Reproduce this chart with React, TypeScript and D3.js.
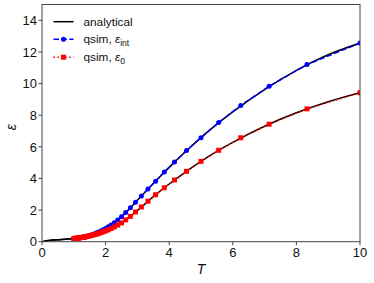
import React from "react";
import * as d3 from "d3";

// Simulation temperatures (beta = 1/T from 1.00 down to 0.10)
const simT = [
  1.0, 1.0204, 1.0417, 1.0638, 1.087, 1.1111, 1.1364, 1.1628, 1.1905, 1.2195,
  1.25, 1.2821, 1.3158, 1.3514, 1.3889, 1.4286, 1.4706, 1.5152, 1.5625, 1.6129,
  1.6667, 1.7241, 1.7857, 1.8519, 1.9231, 2.0, 2.0833, 2.1739, 2.2727, 2.381,
  2.5, 2.6316, 2.7778, 2.9412, 3.125, 3.3333, 3.5714, 3.8462, 4.1667, 4.5455,
  5.0, 5.5556, 6.25, 7.1429, 8.3333, 10.0,
];

const qsimInt = [
  0.2, 0.2, 0.21, 0.21, 0.22, 0.22, 0.23, 0.24, 0.25, 0.26,
  0.27, 0.28, 0.29, 0.3, 0.32, 0.34, 0.36, 0.4, 0.43, 0.47,
  0.51, 0.56, 0.62, 0.68, 0.76, 0.84, 0.94, 1.06, 1.2, 1.37,
  1.58, 1.84, 2.14, 2.49, 2.89, 3.33, 3.83, 4.4, 5.04, 5.76,
  6.58, 7.54, 8.62, 9.83, 11.2, 12.56,
];

const qsim0 = [
  0.2, 0.2, 0.21, 0.21, 0.22, 0.22, 0.23, 0.24, 0.25, 0.26,
  0.27, 0.28, 0.29, 0.3, 0.32, 0.34, 0.36, 0.38, 0.4, 0.43,
  0.46, 0.49, 0.53, 0.58, 0.63, 0.68, 0.75, 0.83, 0.93, 1.05,
  1.19, 1.38, 1.6, 1.88, 2.2, 2.56, 2.97, 3.41, 3.9, 4.45,
  5.08, 5.78, 6.57, 7.43, 8.4, 9.42,
];

// Analytical curves sampled on a T grid
const anaT = [0, 0.05, 0.1, 0.2, 0.3, 0.5, 0.75, 1.0, 1.25, 1.5, 1.75, 2.0, 2.25, 2.5, 2.75, 3.0, 3.5, 4.0, 4.5, 5.0, 5.5, 6.0, 7.0, 8.0, 9.0, 10.0];
const anaInt = [0, 0.01, 0.04, 0.08, 0.1, 0.13, 0.16, 0.2, 0.27, 0.39, 0.58, 0.84, 1.17, 1.58, 2.08, 2.62, 3.68, 4.7, 5.67, 6.58, 7.43, 8.21, 9.62, 10.83, 11.82, 12.56];
const ana0 = [0, 0.01, 0.04, 0.08, 0.1, 0.13, 0.16, 0.2, 0.27, 0.37, 0.51, 0.68, 0.9, 1.19, 1.56, 1.97, 2.85, 3.65, 4.39, 5.08, 5.71, 6.28, 7.3, 8.15, 8.85, 9.42];

const xTicks = [0, 2, 4, 6, 8, 10];
const yTicks = [0, 2, 4, 6, 8, 10, 12, 14];

const W = 374;
const H = 283;
const left = 42;
const right = 360;
const top = 4.5;
const bottom = 241.7;

const FONT = "'Liberation Sans', Arial, sans-serif";
const txt: React.CSSProperties = { fontFamily: FONT };

export default function App() {
  const x = d3.scaleLinear().domain([0, 10]).range([left, right]);
  const y = d3.scaleLinear().domain([0, 15]).range([bottom, top]);

  const line = d3
    .line<[number, number]>()
    .x((d) => x(d[0]))
    .y((d) => y(d[1]));
  const smooth = d3
    .line<[number, number]>()
    .x((d) => x(d[0]))
    .y((d) => y(d[1]))
    .curve(d3.curveMonotoneX);

  const anaIntPts = anaT.map((t, i) => [t, anaInt[i]] as [number, number]);
  const ana0Pts = anaT.map((t, i) => [t, ana0[i]] as [number, number]);
  const intPts = simT.map((t, i) => [t, qsimInt[i]] as [number, number]);
  const zeroPts = simT.map((t, i) => [t, qsim0[i]] as [number, number]);

  const blue = "#0000ff";
  const red = "#ff0000";
  const ms = 5;

  const legY = [21.7, 39.2, 57.2];
  const lx0 = 53.5;
  const lx1 = 73.5;
  const ltx = 83.5;

  return (
    <svg
      width={W}
      height={H}
      style={{ position: "absolute", left: 0, top: 0, background: "#fff" }}
    >
      <defs>
        <clipPath id="clip">
          <rect x={left} y={top} width={right - left} height={bottom - top} />
        </clipPath>
      </defs>
      <rect x={0} y={0} width={W} height={H} fill="#fff" />

      <g clipPath="url(#clip)">
        <path d={smooth(anaIntPts) || ""} fill="none" stroke="#000" strokeWidth={1.5} />
        <path d={smooth(ana0Pts) || ""} fill="none" stroke="#000" strokeWidth={1.5} />
        <path d={line(intPts) || ""} fill="none" stroke={blue} strokeWidth={1.5} strokeDasharray="5.5,2.4" />
        <path d={line(zeroPts) || ""} fill="none" stroke={red} strokeWidth={1.5} strokeDasharray="1.5,2.4" />
        {intPts.map((p, i) => (
          <circle key={"b" + i} cx={x(p[0])} cy={y(p[1])} r={ms / 2} fill={blue} />
        ))}
        {zeroPts.map((p, i) => (
          <rect
            key={"r" + i}
            x={x(p[0]) - ms / 2}
            y={y(p[1]) - ms / 2}
            width={ms}
            height={ms}
            fill={red}
          />
        ))}
      </g>

      {/* frame */}
      <rect
        x={left}
        y={top}
        width={right - left}
        height={bottom - top}
        fill="none"
        stroke="#444"
        strokeWidth={1}
      />

      {/* x ticks */}
      {xTicks.map((t) => (
        <g key={"x" + t}>
          <line x1={x(t)} x2={x(t)} y1={bottom} y2={bottom + 3.5} stroke="#444" strokeWidth={1} />
          <text x={x(t)} y={bottom + 15} textAnchor="middle" fontSize={13} fill="#111" style={txt}>
            {t}
          </text>
        </g>
      ))}
      {/* y ticks */}
      {yTicks.map((t) => (
        <g key={"y" + t}>
          <line x1={left - 3.5} x2={left} y1={y(t)} y2={y(t)} stroke="#444" strokeWidth={1} />
          <text x={left - 5} y={y(t)} dy="0.36em" textAnchor="end" fontSize={13} fill="#111" style={txt}>
            {t}
          </text>
        </g>
      ))}

      {/* axis labels */}
      <text x={(left + right) / 2} y={274} textAnchor="middle" fontSize={14} fontStyle="italic" fill="#111" style={txt}>
        T
      </text>
      <text
        transform={`translate(16, ${(top + bottom) / 2 + 4}) rotate(-90)`}
        textAnchor="middle"
        fontSize={14}
        fontStyle="italic"
        fill="#111"
        style={txt}
      >
        ε
      </text>

      {/* legend */}
      <line x1={lx0} x2={lx1} y1={legY[0]} y2={legY[0]} stroke="#000" strokeWidth={1.5} />
      <text x={ltx} y={legY[0]} dy="0.35em" fontSize={11.8} fill="#111" style={txt}>
        analytical
      </text>

      <line x1={lx0} x2={lx1} y1={legY[1]} y2={legY[1]} stroke={blue} strokeWidth={1.5} strokeDasharray="5.5,2.4" />
      <circle cx={(lx0 + lx1) / 2} cy={legY[1]} r={ms / 2} fill={blue} />
      <text x={ltx} y={legY[1]} dy="0.35em" fontSize={11.8} fill="#111" style={txt}>
        qsim,{" "}
        <tspan fontStyle="italic">ε</tspan>
        <tspan fontSize={8.5} dy={3}>int</tspan>
      </text>

      <line x1={lx0} x2={lx1} y1={legY[2]} y2={legY[2]} stroke={red} strokeWidth={1.5} strokeDasharray="1.5,2.4" />
      <rect x={(lx0 + lx1) / 2 - ms / 2} y={legY[2] - ms / 2} width={ms} height={ms} fill={red} />
      <text x={ltx} y={legY[2]} dy="0.35em" fontSize={11.8} fill="#111" style={txt}>
        qsim,{" "}
        <tspan fontStyle="italic">ε</tspan>
        <tspan fontSize={8.5} dy={3}>0</tspan>
      </text>
    </svg>
  );
}
